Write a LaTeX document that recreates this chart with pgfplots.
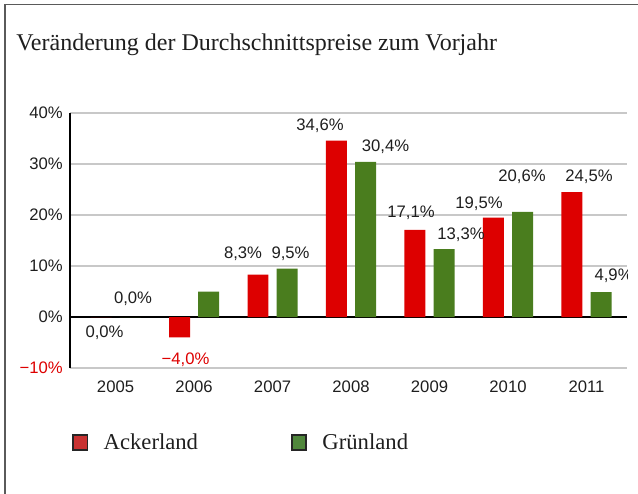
\documentclass[border=0pt]{standalone}
\usepackage{fontspec}
\setmainfont{Liberation Serif}
\newfontfamily\arial{Liberation Sans}
\usepackage{pgfplots}
\pgfplotsset{compat=1.18}
\definecolor{barred}{RGB}{221,0,0}
\definecolor{bargreen}{RGB}{74,125,30}
\definecolor{legred}{RGB}{200,50,50}
\definecolor{leggreen}{RGB}{80,135,60}
\definecolor{gridgray}{RGB}{200,200,200}
\definecolor{txt}{RGB}{30,30,30}
\definecolor{framec}{RGB}{90,90,90}
\tikzset{lab/.style={font=\arial\fontsize{12.5}{14}\selectfont, text=txt, inner sep=0pt}}
\pgfplotsset{legsq/.style={legend image code/.code={\draw[##1] (0pt,-5.6pt) rectangle (10.7pt,5.6pt);}}}
\begin{document}
\begin{tikzpicture}
\useasboundingbox (0,0) rectangle (478.5pt,369.75pt);
\draw[framec, line width=1pt] (3.75pt,-5pt) -- (3.75pt,366.4pt) -- (490pt,366.4pt);
\node[anchor=base west, inner sep=0pt, font=\fontsize{18}{20}\selectfont, text=txt] at (12pt,331.5pt) {Veränderung der Durchschnittspreise zum Vorjahr};
\begin{axis}[
  at={(52.5pt,93.75pt)}, anchor=south west, scale only axis,
  width=417.75pt, height=191.25pt,
  xmin=-0.58, xmax=6.516, ymin=-10, ymax=40,
  axis x line*=bottom, axis y line*=left,
  x axis line style={draw=none},
  y axis line style={black, line width=1.1pt, -},
  major tick length=0pt,
  xtick={0,1,2,3,4,5,6},
  xticklabels={2005,2006,2007,2008,2009,2010,2011},
  ytick={-10,0,10,20,30,40},
  yticklabels={\textcolor{barred}{−10\%},0\%,10\%,20\%,30\%,40\%},
  ymajorgrids,
  major grid style={gridgray, line width=1.1pt},
  extra y ticks={0}, extra y tick labels={},
  extra y tick style={ymajorgrids=true, major grid style={black, line width=1.1pt}},
  tick label style={font=\arial\fontsize{12.5}{14}\selectfont, text=txt},
  xticklabel style={yshift=-6pt},
  yticklabel style={xshift=-2pt},
  legend style={at={(0.0036,-0.292)}, anchor=west, draw=none, fill=none,
    inner sep=0pt, legend columns=2, font=\fontsize{17}{20}\selectfont, text=txt,
    /tikz/every odd column/.append style={column sep=9.75pt},
    /tikz/every even column/.append style={column sep=67.75pt}},
  legend cell align=left,
]
\addlegendimage{legsq, fill=legred, draw=black!85, line width=1.1pt}
\addlegendimage{legsq, fill=leggreen, draw=black!85, line width=1.1pt}
\addplot[ybar, bar width=0.2675, bar shift=-0.185, fill=barred, draw=none, forget plot]
  coordinates {(0,0) (1,-4.0) (2,8.3) (3,34.6) (4,17.1) (5,19.5) (6,24.5)};
\addplot[ybar, bar width=0.2675, bar shift=0.185, fill=bargreen, draw=none, forget plot]
  coordinates {(0,0) (1,5.0) (2,9.5) (3,30.4) (4,13.3) (5,20.6) (6,4.9)};
\legend{Ackerland, Grünland}
\node[lab] at (axis cs:-0.140,-3.14) {0,0\%};
\node[lab] at (axis cs:0.223,3.53) {0,0\%};
\node[lab, text=barred] at (axis cs:0.892,-8.43) {−4,0\%};
\node[lab] at (axis cs:1.624,12.35) {8,3\%};
\node[lab] at (axis cs:2.229,12.35) {9,5\%};
\node[lab] at (axis cs:2.605,37.45) {34,6\%};
\node[lab] at (axis cs:3.439,33.33) {30,4\%};
\node[lab] at (axis cs:3.764,20.39) {17,1\%};
\node[lab] at (axis cs:4.401,16.08) {13,3\%};
\node[lab] at (axis cs:4.631,22.16) {19,5\%};
\node[lab] at (axis cs:5.178,27.45) {20,6\%};
\node[lab] at (axis cs:6.032,27.45) {24,5\%};
\node[lab] at (axis cs:6.345,8.04) {4,9\%};
\end{axis}
\end{tikzpicture}
\end{document}
